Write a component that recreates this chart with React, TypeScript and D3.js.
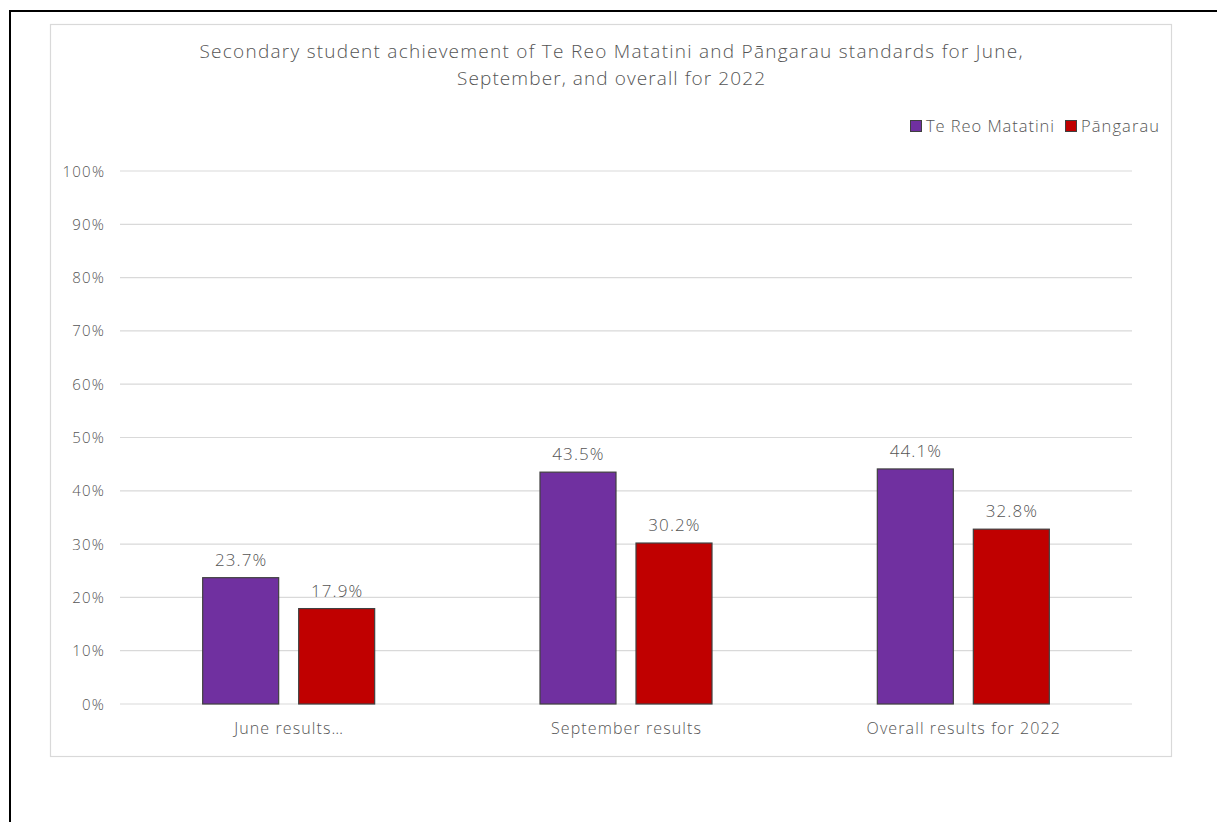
import React, { useEffect } from "react";
import * as d3 from "d3";

const categories = ["June results…", "September results", "Overall results for 2022"];
const seriesNames = ["Te Reo Matatini", "Pāngarau"];
const teReoValues = [0.237, 0.435, 0.441];
const pangarauValues = [0.179, 0.302, 0.328];
const seriesColors = ["#7030A0", "#C00000"];
const yTicks = [0, 0.1, 0.2, 0.3, 0.4, 0.5, 0.6, 0.7, 0.8, 0.9, 1.0];
const titleLines = [
  "Secondary student achievement of Te Reo Matatini and Pāngarau standards for June,",
  "September, and overall for 2022",
];
const titleWidths = [823, 308];
const legendWidths = [128, 78];

const W = 1217;
const H = 822;
const FONT = "'Open Sans', 'Noto Sans', sans-serif";
const TEXT = "#555555";
const GRID = "#d9d9d9";

export default function App() {
  useEffect(() => {
    document.body.style.margin = "0";
    document.body.style.overflow = "hidden";
    document.documentElement.style.overflow = "hidden";
  }, []);

  const plotLeft = 120;
  const plotRight = 1132;
  const plotTop = 171;
  const plotBottom = 704;

  const x0 = d3.scaleBand<string>().domain(categories).range([plotLeft, plotRight]).padding(0);
  const bw = x0.bandwidth();
  const groupW = 172;
  const x1 = d3
    .scaleBand<string>()
    .domain(seriesNames)
    .range([(bw - groupW) / 2, (bw + groupW) / 2])
    .paddingInner(20 / 96)
    .paddingOuter(0);
  const y = d3.scaleLinear().domain([0, 1]).range([plotBottom, plotTop]);
  const fmtTick = d3.format(".0%");
  const fmtVal = d3.format(".1%");

  const seriesValues = [teReoValues, pangarauValues];

  return (
    <svg
      width={W}
      height={H}
      viewBox={`0 0 ${W} ${H}`}
      style={{ position: "absolute", left: 0, top: 0, background: "#fff", overflow: "hidden", display: "block" }}
      fontFamily={FONT}
      fontWeight={300}
    >
      <rect x={0} y={0} width={W} height={H} fill="#fff" />
      {/* outer frame (top and left edges visible) */}
      <line x1={10} x2={W} y1={11} y2={11} stroke="#000" strokeWidth={2} />
      <line x1={10} x2={10} y1={10} y2={H} stroke="#000" strokeWidth={2} />
      {/* chart area border */}
      <rect x={50.5} y={24.5} width={1121} height={732} fill="#fff" stroke={GRID} strokeWidth={1.2} />

      {/* title */}
      {titleLines.map((t, i) => (
        <text
          key={i}
          x={611}
          y={57.5 + i * 27}
          textAnchor="middle"
          fontSize={19}
          fill={TEXT}
          textLength={titleWidths[i]}
          lengthAdjust="spacing"
        >
          {t}
        </text>
      ))}

      {/* legend */}
      {seriesNames.map((s, i) => {
        const lx = i === 0 ? 910 : 1065;
        return (
          <g key={s}>
            <rect x={lx + 0.5} y={120.5} width={11} height={11} fill={seriesColors[i]} stroke="#404040" strokeWidth={1} />
            <text
              x={lx + 16}
              y={132}
              fontSize={16.5}
              fill={TEXT}
              textLength={legendWidths[i]}
              lengthAdjust="spacing"
            >
              {s}
            </text>
          </g>
        );
      })}

      {/* gridlines and y labels */}
      {yTicks.map((t) => (
        <g key={t}>
          <line x1={plotLeft} x2={plotRight} y1={y(t)} y2={y(t)} stroke={GRID} strokeWidth={1.2} />
          <text
            x={104 + 1.2}
            y={y(t) + 5.5}
            textAnchor="end"
            fontSize={15}
            letterSpacing={1.2}
            fill={TEXT}
          >
            {fmtTick(t)}
          </text>
        </g>
      ))}

      {/* bars */}
      {categories.map((c, ci) => (
        <g key={c} transform={`translate(${x0(c)},0)`}>
          {seriesNames.map((s, si) => {
            const v = seriesValues[si][ci];
            const bx = x1(s)!;
            return (
              <g key={s}>
                <rect
                  x={bx}
                  y={y(v)}
                  width={x1.bandwidth()}
                  height={y(0) - y(v)}
                  fill={seriesColors[si]}
                  stroke="#404040"
                  strokeWidth={1.2}
                />
                <text
                  x={bx + x1.bandwidth() / 2 + 0.5}
                  y={y(v) - 12}
                  textAnchor="middle"
                  fontSize={17}
                  letterSpacing={1.1}
                  fill={TEXT}
                >
                  {fmtVal(v)}
                </text>
              </g>
            );
          })}
          <text
            x={bw / 2 + 0.5}
            y={734}
            textAnchor="middle"
            fontSize={16}
            letterSpacing={1.1}
            fill={TEXT}
          >
            {c}
          </text>
        </g>
      ))}
    </svg>
  );
}
